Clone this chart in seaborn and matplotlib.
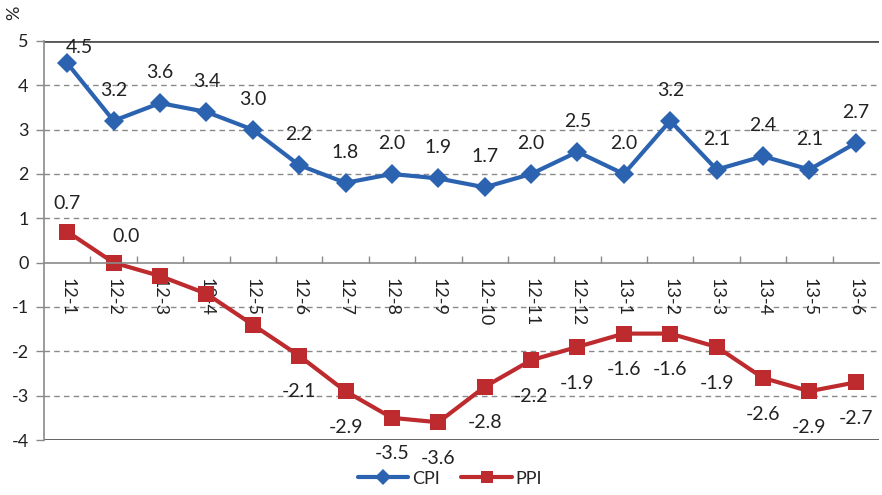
import matplotlib
matplotlib.use("Agg")
import matplotlib.pyplot as plt
from matplotlib.ticker import FixedLocator, NullFormatter
import seaborn as sns
import pandas as pd

months = ["12-1", "12-2", "12-3", "12-4", "12-5", "12-6", "12-7", "12-8", "12-9",
          "12-10", "12-11", "12-12", "13-1", "13-2", "13-3", "13-4", "13-5", "13-6"]
cpi = [4.5, 3.2, 3.6, 3.4, 3.0, 2.2, 1.8, 2.0, 1.9, 1.7, 2.0, 2.5, 2.0, 3.2, 2.1, 2.4, 2.1, 2.7]
ppi = [0.7, 0.0, -0.3, -0.7, -1.4, -2.1, -2.9, -3.5, -3.6, -2.8, -2.2, -1.9, -1.6, -1.6, -1.9, -2.6, -2.9, -2.7]
y_ticks = [5, 4, 3, 2, 1, 0, -1, -2, -3, -4]

BLUE = "#2B63B1"
RED = "#BD2B2E"

sns.set_theme(style="white")
plt.rcParams["font.family"] = ["Lato", "DejaVu Sans"]

df = pd.DataFrame({
    "month": months * 2,
    "value": cpi + ppi,
    "series": ["CPI"] * len(months) + ["PPI"] * len(months),
})

fig = plt.figure(figsize=(8.82, 4.95), dpi=100)
ax = fig.add_axes([0.0499, 0.1111, 0.9467, 0.8061])

sns.lineplot(data=df, x="month", y="value", hue="series", style="series",
             markers={"CPI": "D", "PPI": "s"}, dashes=False,
             palette={"CPI": BLUE, "PPI": RED}, linewidth=3,
             markersize=10, markeredgewidth=0, sort=False, ax=ax, legend=False)
# squares drawn a little larger than the diamonds
for line in ax.get_lines():
    if line.get_marker() == "s":
        line.set_markersize(12)

ax.set_xlim(-0.5, len(months) - 0.5)
ax.set_ylim(-4, 5)
ax.set_xlabel("")
ax.set_ylabel("")

# horizontal grid
for y in y_ticks:
    if y in (5, 0, -4):
        continue
    ax.axhline(y, color="#8a8a8a", lw=1, ls=(0, (4, 3)), zorder=0)
ax.axhline(5, color="#555555", lw=2, zorder=1)
ax.axhline(-4, color="#555555", lw=2, zorder=1)

# category axis sits at zero
ax.spines["bottom"].set_position(("data", 0))
ax.spines["bottom"].set_color("#8a8a8a")
ax.spines["bottom"].set_linewidth(1.2)
ax.spines["left"].set_color("#8a8a8a")
ax.spines["left"].set_linewidth(1.2)
ax.spines["top"].set_visible(False)
ax.spines["right"].set_visible(False)

ax.set_yticks(y_ticks)
ax.set_yticklabels([str(v) for v in y_ticks])
ax.tick_params(axis="y", which="major", direction="out", length=6, width=1,
               color="#8a8a8a", labelsize=13, pad=5, left=True)

ax.set_xticks(range(len(months)))
ax.set_xticklabels(months, rotation=-90, fontsize=13, va="top", ha="center")
ax.tick_params(axis="x", which="major", length=0, pad=11)
ax.xaxis.set_minor_locator(FixedLocator([i + 0.5 for i in range(len(months) - 1)]))
ax.xaxis.set_minor_formatter(NullFormatter())
ax.tick_params(axis="x", which="minor", direction="in", length=5, width=1,
               color="#8a8a8a", bottom=True)
for lbl in ax.get_xticklabels():
    lbl.set_color("#222222")
for lbl in ax.get_yticklabels():
    lbl.set_color("#222222")

# value labels
for i, v in enumerate(cpi):
    dx = 9 if i == 0 else 0
    dy = 11 if i == 0 else 22
    ax.annotate(f"{v:.1f}", (i, v), xytext=(dx, dy), textcoords="offset points",
                ha="center", va="center", fontsize=14, color="#222222")
for i, v in enumerate(ppi):
    if i in (2, 3, 4):
        continue
    if i == 0:
        off = (0, 20)
    elif i == 1:
        off = (9, 19)
    else:
        off = (0, -26)
    ax.annotate(f"{v:.1f}", (i, v), xytext=off, textcoords="offset points",
                ha="center", va="center", fontsize=14, color="#222222")

fig.text(0.016, 0.975, "%", rotation=90, ha="center", va="center",
         fontsize=13, color="#222222")

handles = [plt.Line2D([], [], color=BLUE, lw=3, marker="D", markersize=8, markeredgewidth=0),
           plt.Line2D([], [], color=RED, lw=3, marker="s", markersize=9, markeredgewidth=0)]
fig.legend(handles, ["CPI", "PPI"], loc="center", bbox_to_anchor=(0.51, 0.033),
           ncol=2, frameon=False, fontsize=13, handlelength=2.8,
           handletextpad=0.2, columnspacing=1.2)

fig.savefig("out.png", dpi=100)
